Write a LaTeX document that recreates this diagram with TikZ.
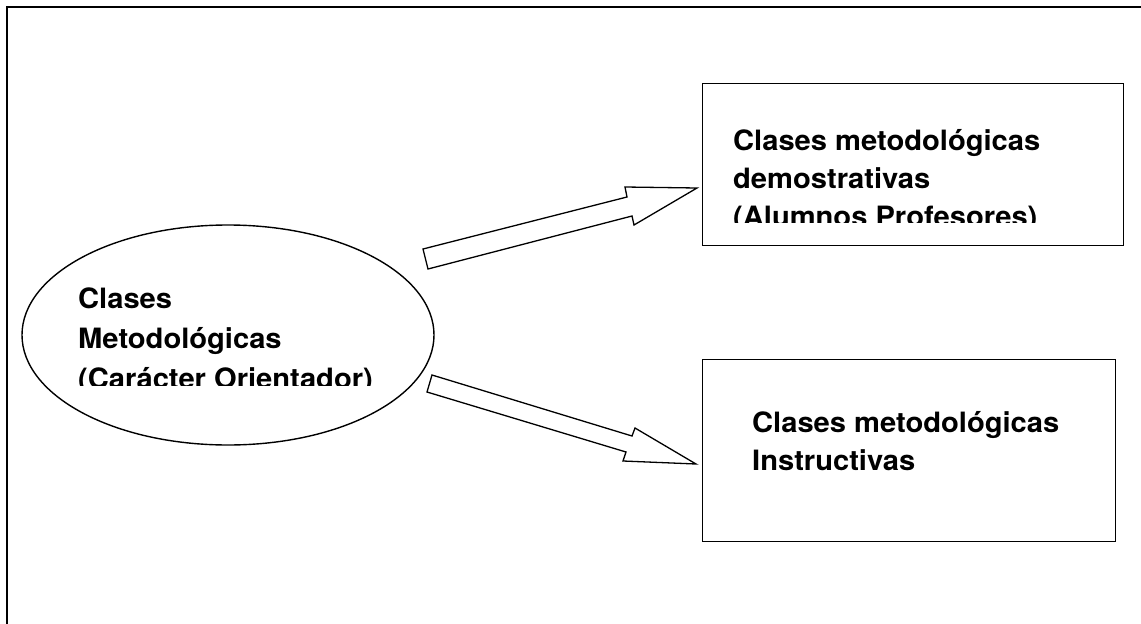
\documentclass[tikz,border=0pt]{standalone}
\usepackage{fontspec}
\usetikzlibrary{shapes.geometric}
\setmainfont{TeX Gyre Heros}[FakeStretch=1.04]
\begin{document}
\begin{tikzpicture}[x=1pt,y=-1pt,
  frame/.style={line width=2pt},
  boxline/.style={draw,line width=1.4pt},
  blockarrow/.style={draw,line width=1.3pt,line join=miter,fill=white},
  lbl/.style={anchor=base west,inner sep=0pt,align=left,
    font=\fontsize{28}{38}\selectfont\bfseries},
  widelbl/.style={lbl,font=\fontsize{28}{40}\selectfont\bfseries}]
  \useasboundingbox (0,0) rectangle (1141,624);
  % page frame (top and left edges)
  \draw[frame] (1145,7) -- (7,7) -- (7,630);
  % central ellipse
  \node[draw,ellipse,line width=1.4pt,minimum width=412pt,minimum height=220pt,inner sep=0pt]
    (main) at (228,335) {};
  \draw[white,line width=3pt] (53.5,271.5) -- (57.5,267);
  % text nodes are anchored at the baseline of their last line
  \begin{scope}
    \clip (60,250) rectangle (420,385);
    \node[widelbl] (maintext) at (78,388) {Clases\\Metodológicas\\(Carácter Orientador)};
  \end{scope}
  % right boxes
  \node[boxline,minimum width=421pt,minimum height=162pt,inner sep=0pt,anchor=north west]
    (demo) at (702,83) {};
  \begin{scope}
    \clip (710,90) rectangle (1115,222);
    \node[lbl] (demotext) at (733,226) {Clases metodológicas\\demostrativas\\(Alumnos Profesores)};
  \end{scope}
  \node[boxline,minimum width=413pt,minimum height=182pt,inner sep=0pt,anchor=north west]
    (instr) at (702,359) {};
  \node[lbl] (instrtext) at (752,470) {Clases metodológicas\\Instructivas};
  % block arrows
  \draw[blockarrow] (423,249) -- (627,197) -- (625,187) -- (697,188) -- (634,225)
    -- (632,216) -- (428,269) -- cycle;
  \draw[blockarrow] (432,375) -- (632,436) -- (635,428) -- (696,464) -- (623,461)
    -- (626,452) -- (427,392) -- cycle;
\end{tikzpicture}
\end{document}
